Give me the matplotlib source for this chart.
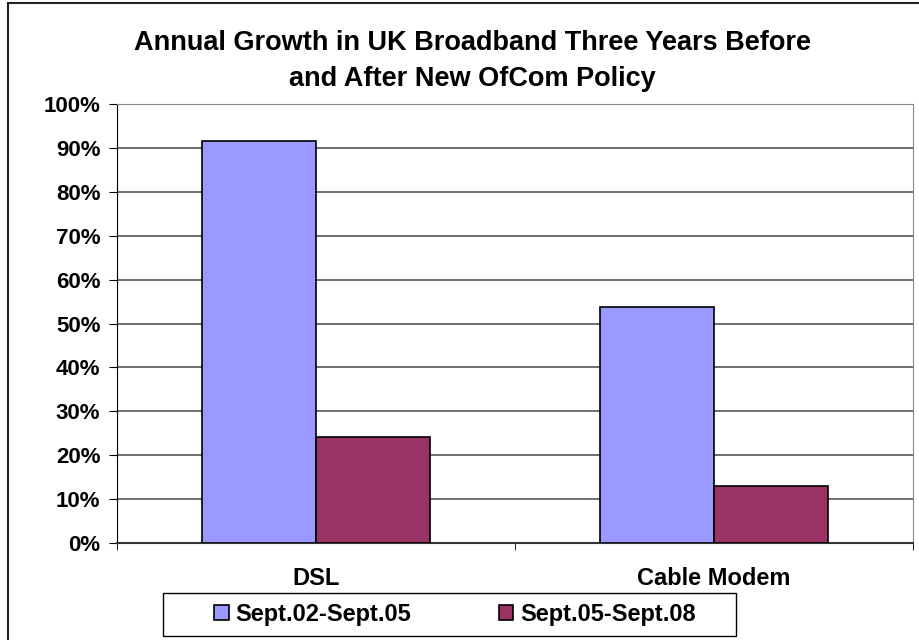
import matplotlib
matplotlib.use("Agg")
import matplotlib.pyplot as plt
import numpy as np
from matplotlib.patches import Rectangle

# veriler
categories = ["DSL", "Cable Modem"]
series_names = ["Sept.02-Sept.05", "Sept.05-Sept.08"]
before = [91.6, 53.8]
after = [24.1, 13.0]
colors = ["#9999ff", "#993366"]

plt.rcParams["font.family"] = ["Liberation Sans", "DejaVu Sans"]
plt.rcParams["font.weight"] = "bold"

W, H = 920, 640
fig = plt.figure(figsize=(9.2, 6.4), dpi=100)
ax = fig.add_axes([117 / W, 1 - 543 / H, 796 / W, 439 / H])

# dis cerceve (sag ve alt kenar resmin disinda)
fig.patches.append(Rectangle((8 / W, -0.05), 1.0, 1.05 - 3 / H, transform=fig.transFigure,
                             fill=False, edgecolor="#222222", linewidth=1.5))

x = np.arange(len(categories))
w = 1 / 3.5
ax.bar(x - w / 2, before, w, color=colors[0], edgecolor="black", linewidth=1.2,
       label=series_names[0], zorder=3)
ax.bar(x + w / 2, after, w, color=colors[1], edgecolor="black", linewidth=1.2,
       label=series_names[1], zorder=3)

ax.set_xlim(-0.5, 1.5)
ax.set_ylim(0, 100)
yt = np.arange(0, 101, 10)
ax.set_yticks(yt)
ax.set_yticklabels([f"{v}%" for v in yt], fontsize=16, fontweight="bold")
ax.set_xticks(x)
ax.set_xticklabels(categories, fontsize=17, fontweight="bold")
ax.tick_params(axis="x", length=0, pad=17)
ax.set_xticks([-0.5, 0.5, 1.5], minor=True)
ax.tick_params(axis="x", which="minor", length=5, direction="out")
ax.tick_params(axis="y", length=6, direction="out", pad=6)
ax.grid(axis="y", color="#555555", linewidth=1.2, zorder=0)

for s in ["top", "right"]:
    ax.spines[s].set_color("#888888")
ax.spines["left"].set_color("black")
ax.spines["bottom"].set_color("#333333")
ax.spines["bottom"].set_linewidth(1.5)

fig.text(472 / W, 1 - 61 / H, "Annual Growth in UK Broadband Three Years Before\nand After New OfCom Policy",
         fontsize=19.5, fontweight="bold", ha="center", va="center", linespacing=1.45)

# lejant kutusu
fig.patches.append(Rectangle((163 / W, 1 - 636 / H), 573 / W, 43 / H, transform=fig.transFigure,
                             fill=False, edgecolor="black", linewidth=1.0))
leg = ax.legend(loc="center", bbox_to_anchor=(455 / W, 1 - 614 / H), bbox_transform=fig.transFigure,
                ncol=2, fontsize=17, frameon=False,
                handlelength=0.6, handleheight=0.6, handletextpad=0.3, columnspacing=3.7,
                borderpad=0.0)
for t in leg.get_texts():
    t.set_fontweight("bold")

fig.savefig("out.png", dpi=100)
